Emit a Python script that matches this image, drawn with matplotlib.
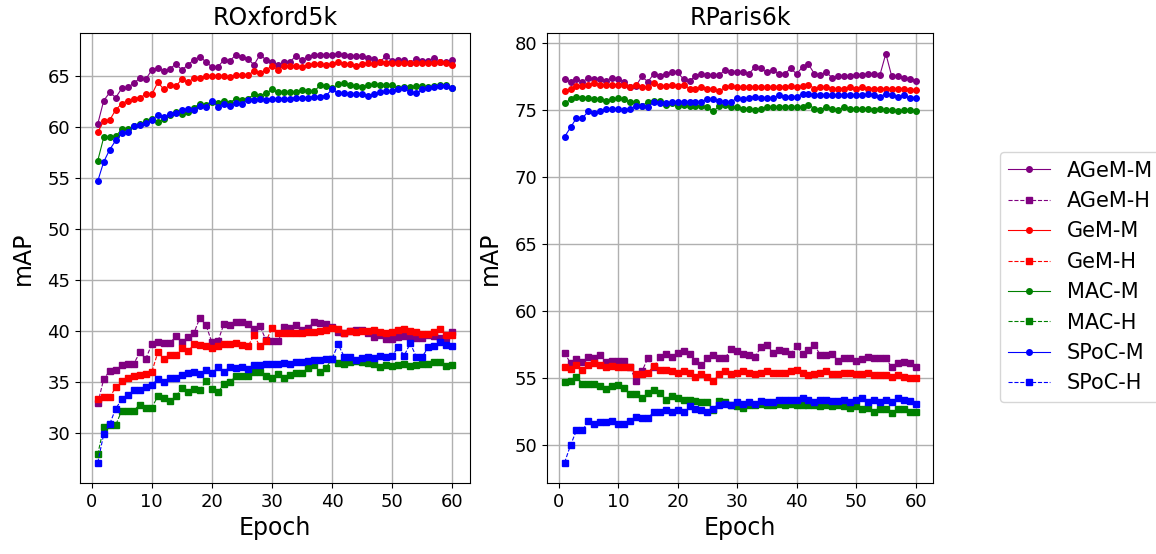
import numpy as np
import matplotlib
matplotlib.use("Agg")
import matplotlib.pyplot as plt

epochs = np.arange(1, 61)

# ROxford5k
ox_agem_m = [60.3, 62.6, 63.4, 62.9, 63.8, 63.9, 64.3, 64.8, 64.7, 65.6,
             65.8, 65.5, 65.7, 66.2, 65.6, 66.1, 66.6, 66.9, 66.4, 65.9,
             65.9, 66.6, 66.5, 67.1, 66.9, 66.7, 66.1, 67.1, 66.6, 66.4,
             66.1, 66.4, 66.4, 67.0, 66.6, 66.9, 67.1, 67.1, 67.1, 67.1,
             67.2, 67.1, 67.0, 67.0, 67.0, 66.8, 66.7, 66.4, 67.0, 66.5,
             66.6, 66.6, 66.3, 66.7, 66.5, 66.5, 66.8, 66.4, 66.4, 66.6]
ox_agem_h = [32.9, 35.3, 36.1, 36.2, 36.7, 36.8, 36.8, 37.9, 37.3, 38.7,
             38.9, 38.8, 38.8, 39.5, 38.9, 39.4, 39.8, 41.3, 40.6, 38.9,
             39.0, 40.7, 40.6, 40.9, 40.9, 40.7, 40.2, 40.5, 39.1, 39.0,
             39.0, 40.4, 40.3, 40.6, 40.1, 40.3, 40.9, 40.8, 40.7, 40.4,
             39.9, 39.8, 40.0, 40.1, 40.1, 39.8, 39.4, 39.6, 39.2, 39.2,
             39.4, 39.5, 39.4, 39.3, 39.3, 39.6, 39.5, 39.3, 39.3, 39.9]
ox_gem_m = [59.5, 60.6, 60.7, 61.7, 62.3, 62.6, 62.8, 62.9, 63.2, 63.2,
            64.4, 63.7, 64.1, 64.0, 64.7, 64.4, 64.8, 64.8, 65.0, 65.0,
            65.0, 65.0, 64.9, 65.1, 65.1, 65.1, 65.5, 65.3, 65.6, 66.0,
            65.6, 66.0, 66.0, 66.0, 65.9, 66.1, 66.2, 66.2, 66.1, 66.2,
            66.4, 66.2, 66.2, 66.0, 66.2, 66.3, 66.2, 66.4, 66.3, 66.3,
            66.3, 66.3, 66.3, 66.3, 66.3, 66.3, 66.3, 66.4, 66.3, 66.1]
ox_gem_h = [33.3, 33.5, 33.5, 34.5, 35.1, 35.4, 35.6, 35.7, 35.8, 36.0,
            37.9, 37.3, 37.7, 37.7, 38.3, 38.0, 38.7, 38.6, 38.5, 38.3,
            38.5, 38.7, 38.7, 38.8, 38.6, 38.5, 39.6, 38.5, 39.0, 40.3,
            39.8, 39.8, 39.8, 39.8, 39.8, 39.9, 39.9, 40.0, 40.1, 40.3,
            40.2, 39.8, 40.0, 39.9, 40.0, 40.0, 40.1, 39.9, 39.8, 39.9,
            40.1, 40.2, 40.0, 39.9, 39.7, 39.7, 39.9, 40.2, 39.6, 39.6]
ox_mac_m = [56.7, 59.0, 59.0, 59.1, 59.8, 59.8, 60.1, 60.3, 60.6, 60.8,
            60.5, 60.8, 61.2, 61.5, 61.3, 61.5, 61.9, 62.3, 62.2, 62.5,
            62.4, 62.6, 62.4, 62.8, 62.7, 62.8, 63.2, 63.1, 63.3, 63.7,
            63.4, 63.4, 63.4, 63.4, 63.6, 63.5, 63.5, 64.1, 64.0, 63.8,
            64.2, 64.3, 64.1, 64.0, 63.9, 64.1, 64.2, 64.1, 64.1, 64.1,
            63.8, 63.9, 63.9, 64.0, 64.0, 63.9, 64.0, 64.1, 64.1, 63.8]
ox_mac_h = [27.9, 30.6, 30.8, 30.8, 32.2, 32.2, 32.2, 32.8, 32.5, 32.5,
            33.6, 33.4, 33.1, 33.6, 34.4, 34.0, 34.3, 34.2, 35.1, 34.3,
            34.0, 34.8, 35.0, 35.6, 35.6, 35.6, 36.0, 36.0, 35.6, 35.4,
            35.8, 35.4, 35.7, 35.9, 35.9, 36.4, 36.7, 36.0, 36.4, 37.3,
            36.9, 36.8, 37.0, 37.1, 37.0, 36.9, 36.8, 36.5, 36.7, 36.6,
            36.7, 36.8, 36.6, 36.7, 36.8, 36.8, 37.0, 37.0, 36.6, 36.7]
ox_spoc_m = [54.7, 56.6, 57.8, 58.7, 59.4, 59.5, 60.1, 60.2, 60.4, 60.7,
             61.2, 61.0, 61.3, 61.4, 61.7, 61.8, 61.7, 62.1, 62.0, 62.6,
             62.0, 62.3, 62.1, 62.4, 62.3, 62.7, 62.7, 62.8, 62.7, 62.8,
             62.8, 62.8, 62.8, 62.9, 62.9, 62.9, 63.0, 63.0, 63.1, 63.7,
             63.3, 63.3, 63.2, 63.2, 63.2, 63.1, 63.2, 63.4, 63.5, 63.5,
             63.7, 63.8, 63.4, 63.3, 63.7, 63.8, 63.9, 64.0, 64.0, 63.8]
ox_spoc_h = [27.1, 29.9, 30.9, 32.4, 33.3, 33.7, 34.2, 34.2, 34.5, 34.7,
             35.3, 35.0, 35.4, 35.4, 35.7, 35.9, 36.0, 35.8, 36.2, 35.9,
             36.5, 36.0, 36.5, 36.4, 36.5, 36.3, 36.7, 36.7, 36.8, 36.8,
             36.8, 36.9, 36.8, 37.0, 37.0, 37.1, 37.2, 37.2, 37.3, 37.3,
             38.7, 37.5, 37.5, 37.2, 37.4, 37.5, 37.4, 37.6, 37.5, 37.6,
             38.4, 37.6, 38.8, 37.5, 37.5, 38.4, 38.5, 38.9, 38.6, 38.5]

# RParis6k
pa_agem_m = [77.3, 77.1, 77.3, 77.1, 77.4, 77.3, 77.3, 77.2, 77.4, 77.3,
             77.1, 76.7, 76.8, 77.5, 77.1, 77.7, 77.5, 77.7, 77.8, 77.8,
             77.3, 77.2, 77.5, 77.7, 77.6, 77.6, 77.6, 78.0, 77.8, 77.8,
             77.8, 77.7, 78.2, 78.1, 77.8, 78.0, 77.7, 77.7, 78.1, 77.7,
             78.2, 78.4, 77.7, 77.6, 77.8, 77.4, 77.5, 77.5, 77.5, 77.6,
             77.6, 77.7, 77.7, 77.6, 79.2, 77.5, 77.5, 77.4, 77.3, 77.2]
pa_agem_h = [56.9, 56.1, 56.4, 56.2, 56.6, 56.5, 56.7, 56.2, 56.3, 56.3,
             56.3, 55.8, 54.8, 55.5, 56.5, 55.8, 56.6, 56.8, 56.6, 56.9,
             57.0, 56.8, 56.3, 56.0, 56.5, 56.7, 56.5, 56.5, 57.2, 57.0,
             56.8, 56.7, 56.6, 57.3, 57.5, 56.9, 57.1, 57.0, 56.8, 57.4,
             56.8, 57.1, 57.5, 56.7, 56.7, 56.8, 56.3, 56.5, 56.5, 56.3,
             56.4, 56.6, 56.5, 56.5, 56.5, 55.8, 56.1, 56.2, 56.1, 55.8]
pa_gem_m = [76.4, 76.6, 76.8, 76.8, 76.9, 77.0, 76.9, 76.9, 76.9, 76.9,
            76.9, 76.7, 76.9, 76.7, 76.7, 77.0, 76.8, 76.8, 76.9, 76.8,
            76.9, 76.6, 76.6, 76.7, 76.6, 76.6, 76.4, 76.7, 76.8, 76.7,
            76.7, 76.7, 76.7, 76.7, 76.7, 76.7, 76.7, 76.7, 76.8, 76.7,
            76.8, 76.9, 76.6, 76.7, 76.7, 76.6, 76.6, 76.6, 76.7, 76.6,
            76.7, 76.6, 76.6, 76.6, 76.6, 76.6, 76.6, 76.6, 76.5, 76.5]
pa_gem_h = [55.8, 55.7, 56.0, 55.6, 56.0, 56.1, 56.0, 55.8, 55.9, 55.8,
            55.8, 55.8, 55.3, 55.3, 55.4, 55.9, 55.6, 55.6, 55.5, 55.4,
            55.5, 55.4, 55.1, 55.3, 55.1, 54.8, 55.3, 55.5, 55.3, 55.4,
            55.5, 55.4, 55.3, 55.4, 55.5, 55.4, 55.4, 55.4, 55.5, 55.6,
            55.4, 55.2, 55.3, 55.4, 55.5, 55.3, 55.3, 55.4, 55.4, 55.3,
            55.3, 55.4, 55.2, 55.2, 55.2, 55.1, 55.2, 55.1, 55.0, 55.0]
pa_mac_m = [75.5, 75.8, 76.0, 75.9, 75.9, 75.8, 75.8, 75.7, 75.8, 75.9,
            75.8, 75.6, 75.6, 75.3, 75.6, 75.7, 75.7, 75.4, 75.5, 75.3,
            75.4, 75.3, 75.3, 75.3, 75.2, 74.9, 75.3, 75.4, 75.2, 75.2,
            75.1, 75.1, 75.0, 75.1, 75.2, 75.2, 75.2, 75.2, 75.2, 75.2,
            75.2, 75.4, 75.1, 75.0, 75.2, 75.1, 75.0, 75.2, 75.1, 75.1,
            75.1, 75.1, 75.0, 75.1, 75.0, 75.0, 74.9, 75.0, 75.0, 74.9]
pa_mac_h = [54.7, 54.8, 55.1, 54.6, 54.6, 54.6, 54.4, 54.2, 54.4, 54.5,
            54.3, 53.8, 53.8, 53.5, 53.9, 54.1, 53.9, 53.4, 53.7, 53.5,
            53.4, 53.4, 53.3, 53.2, 53.2, 52.6, 53.3, 53.2, 53.0, 52.9,
            52.8, 53.0, 53.0, 53.1, 53.0, 53.0, 53.1, 53.0, 53.1, 53.0,
            53.0, 53.0, 53.0, 52.9, 53.0, 52.9, 53.0, 52.9, 52.8, 52.9,
            52.7, 52.8, 52.5, 52.7, 52.7, 52.4, 52.7, 52.7, 52.5, 52.5]
pa_spoc_m = [73.0, 73.7, 74.4, 74.4, 74.9, 74.8, 74.9, 75.1, 75.1, 75.1,
             75.0, 75.1, 75.3, 75.3, 75.2, 75.6, 75.5, 75.5, 75.6, 75.6,
             75.6, 75.6, 75.6, 75.6, 75.8, 75.8, 75.7, 75.6, 75.6, 75.9,
             75.8, 75.9, 76.0, 75.9, 75.9, 75.9, 76.1, 76.0, 76.0, 76.0,
             76.2, 76.2, 76.1, 76.1, 76.1, 76.1, 76.1, 76.1, 76.1, 76.1,
             76.1, 76.2, 76.1, 76.0, 76.2, 76.1, 76.0, 76.1, 75.9, 75.9]
pa_spoc_h = [48.7, 50.0, 51.1, 51.1, 51.8, 51.6, 51.7, 51.7, 51.8, 51.6,
             51.6, 51.8, 52.1, 52.0, 52.0, 52.5, 52.5, 52.6, 52.5, 52.6,
             52.5, 52.9, 52.7, 52.6, 52.5, 52.7, 53.0, 53.1, 53.0, 53.2,
             53.1, 53.2, 53.1, 53.3, 53.2, 53.2, 53.4, 53.4, 53.4, 53.4,
             53.5, 53.4, 53.2, 53.4, 53.4, 53.3, 53.3, 53.4, 53.2, 53.4,
             53.5, 53.2, 53.4, 53.2, 53.4, 53.2, 53.5, 53.4, 53.3, 53.1]

names = ["AGeM", "GeM", "MAC", "SPoC"]
colors = ["purple", "red", "green", "blue"]
oxford = {"AGeM": (ox_agem_m, ox_agem_h), "GeM": (ox_gem_m, ox_gem_h),
          "MAC": (ox_mac_m, ox_mac_h), "SPoC": (ox_spoc_m, ox_spoc_h)}
paris = {"AGeM": (pa_agem_m, pa_agem_h), "GeM": (pa_gem_m, pa_gem_h),
         "MAC": (pa_mac_m, pa_mac_h), "SPoC": (pa_spoc_m, pa_spoc_h)}

fig = plt.figure(figsize=(11.56, 5.54), dpi=100)
ax1 = fig.add_axes([0.0692, 0.128, 0.3374, 0.812])
ax2 = fig.add_axes([0.4732, 0.128, 0.334, 0.812])

for ax, data, title in [(ax1, oxford, "ROxford5k"), (ax2, paris, "RParis6k")]:
    for n, c in zip(names, colors):
        m, h = data[n]
        ax.plot(epochs, m, "-o", color=c, lw=0.8, ms=4, label=n + "-M")
        ax.plot(epochs, h, "--s", color=c, lw=0.8, ms=4.5, label=n + "-H")
    ax.grid(color="#b0b0b0", lw=1.0)
    ax.set_title(title, fontsize=17)
    ax.set_xlabel("Epoch", fontsize=17)
    ax.set_ylabel("mAP", fontsize=17, labelpad=9)
    ax.tick_params(labelsize=13)
    ax.set_xticks([0, 10, 20, 30, 40, 50, 60])

handles, labels = ax1.get_legend_handles_labels()
fig.legend(handles, labels, loc="center left", bbox_to_anchor=(0.856, 0.5),
           fontsize=15)

fig.savefig("out.png", dpi=100)
